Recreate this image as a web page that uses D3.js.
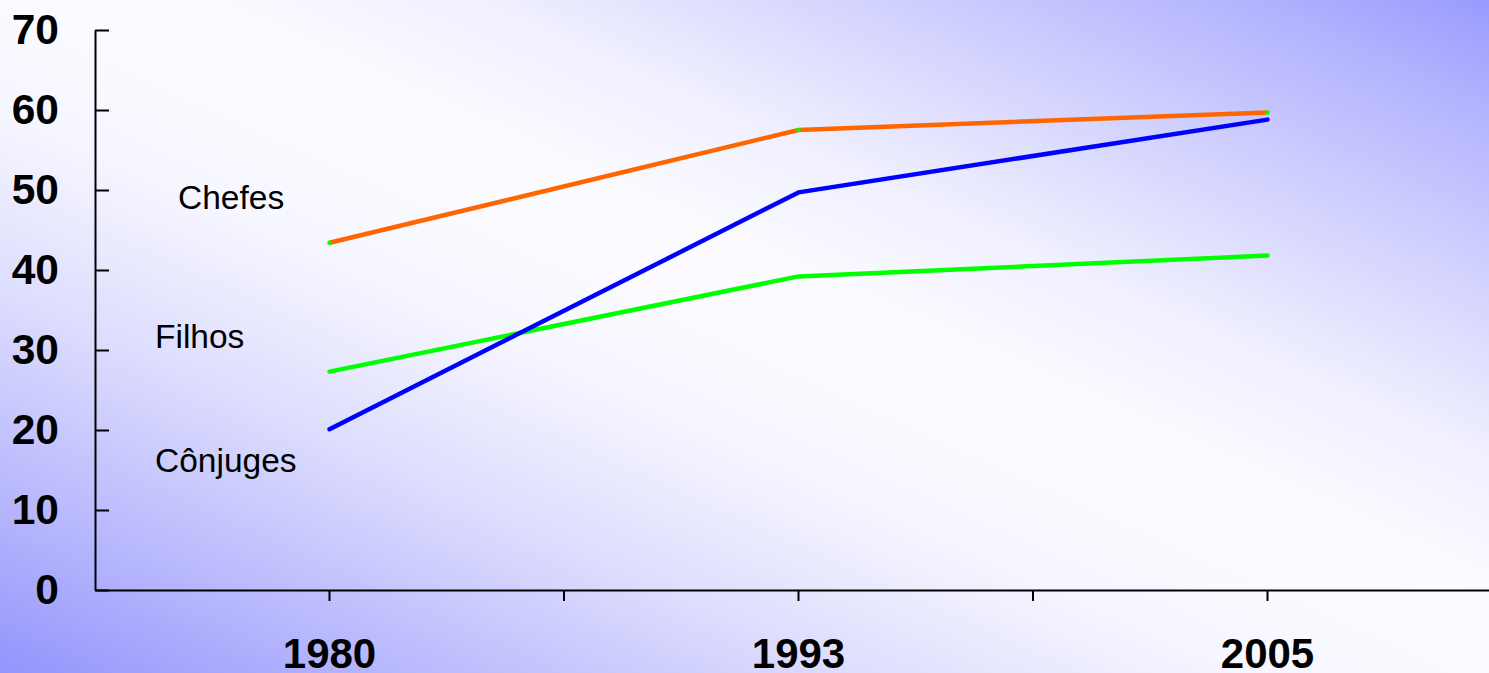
<!DOCTYPE html>
<html>
<head>
<meta charset="utf-8">
<script src="https://cdn.jsdelivr.net/npm/d3@7"></script>
<style>
  html, body { margin: 0; padding: 0; overflow: hidden; }
  svg { display: block; font-family: "Liberation Sans", Arial, sans-serif; }
</style>
</head>
<body>
<svg id="chart" width="1489" height="673"></svg>
<script>
// Years on the category axis
const years = ["1980", "1993", "2005"];

// Share (%) for each household member type
const chefes   = [43.4, 57.5, 59.7];
const conjuges = [20.1, 49.7, 58.8];
const filhos   = [27.3, 39.2, 41.8];

// Value-axis ticks
const yTicks = [0, 10, 20, 30, 40, 50, 60, 70];

// Series names written beside the value axis, with the value level they sit at
const seriesNames  = ["Chefes", "Filhos", "Cônjuges"];
const nameLevels   = [47.6, 30.3, 14.8];
const nameOffsets  = [83, 60, 60];

const W = 1489, H = 673;
const plot = { left: 95, top: 30, bottom: 590, right: 1502 };

const svg = d3.select("#chart");

// Diagonal background: blue in two opposite corners, a broad white band across the middle
const defs = svg.append("defs");
const grad = defs.append("linearGradient")
  .attr("id", "bg")
  .attr("x1", 0).attr("y1", 1).attr("x2", 1).attr("y2", 0);
[
  [0.00, "#9494fc"],
  [0.12, "#b4b4fd"],
  [0.28, "#dcdcfe"],
  [0.42, "#f6f6ff"],
  [0.55, "#fcfcff"],
  [0.66, "#f0f0ff"],
  [0.80, "#d0d0fe"],
  [0.92, "#b2b2fe"],
  [1.00, "#9a9afe"]
].forEach(([o, c]) => grad.append("stop").attr("offset", o).attr("stop-color", c));
svg.append("rect").attr("width", W).attr("height", H).attr("fill", "url(#bg)");

const x = d3.scaleBand().domain(years).range([plot.left, plot.right]).padding(0);
const y = d3.scaleLinear().domain([0, 70]).range([plot.bottom, plot.top]);
const cx = d => x(d) + x.bandwidth() / 2;

// Value axis: ticks point into the plot, labels on the left
const yAxis = svg.append("g")
  .attr("transform", `translate(${plot.left},0)`)
  .call(d3.axisLeft(y).tickValues(yTicks).tickSizeInner(-14).tickSizeOuter(0).tickPadding(36));
yAxis.select(".domain").attr("stroke", "#000").attr("stroke-width", 2);
yAxis.selectAll(".tick line").attr("stroke", "#000").attr("stroke-width", 2);
yAxis.selectAll(".tick text")
  .attr("font-size", 42.5).attr("font-weight", "bold").attr("fill", "#000")
  .attr("font-family", "Liberation Sans, Arial, sans-serif");

// Category axis
const xAxis = svg.append("g")
  .attr("transform", `translate(0,${plot.bottom})`)
  .call(d3.axisBottom(x).tickSizeInner(11).tickSizeOuter(0).tickPadding(37));
xAxis.select(".domain").attr("stroke", "#000").attr("stroke-width", 2);
xAxis.selectAll(".tick line").attr("stroke", "#000").attr("stroke-width", 2);
xAxis.selectAll(".tick text")
  .attr("font-size", 42).attr("font-weight", "bold").attr("fill", "#000")
  .attr("font-family", "Liberation Sans, Arial, sans-serif");

// Extra tick marks on the boundaries between categories
xAxis.selectAll(".bound")
  .data(years.slice(1))
  .join("line")
  .attr("class", "bound")
  .attr("x1", d => x(d)).attr("x2", d => x(d))
  .attr("y1", 0).attr("y2", 11)
  .attr("stroke", "#000").attr("stroke-width", 2);

const line = d3.line().x((d, i) => cx(years[i])).y(d => y(d));

const series = [
  { values: filhos,   color: "#00ff00", cap: "round" },
  { values: conjuges, color: "#0000ff", cap: "round" },
  { values: chefes,   color: "#ff6600", cap: "butt" }
];

svg.selectAll(".series")
  .data(series)
  .join("path")
  .attr("class", "series")
  .attr("d", d => line(d.values))
  .attr("fill", "none")
  .attr("stroke", d => d.color)
  .attr("stroke-width", 4.5)
  .attr("stroke-linecap", d => d.cap)
  .attr("stroke-linejoin", "round");

// Small square markers on the Chefes series
svg.selectAll(".marker")
  .data(chefes)
  .join("rect")
  .attr("class", "marker")
  .attr("x", (d, i) => cx(years[i]) - 2)
  .attr("y", d => y(d) - 2)
  .attr("width", 4).attr("height", 4)
  .attr("fill", "#00ff00");

// Series names
svg.selectAll(".name")
  .data(seriesNames)
  .join("text")
  .attr("class", "name")
  .attr("x", (d, i) => plot.left + nameOffsets[i])
  .attr("y", (d, i) => y(nameLevels[i]))
  .attr("font-size", 33.5)
  .attr("fill", "#000")
  .text(d => d);
</script>
</body>
</html>
